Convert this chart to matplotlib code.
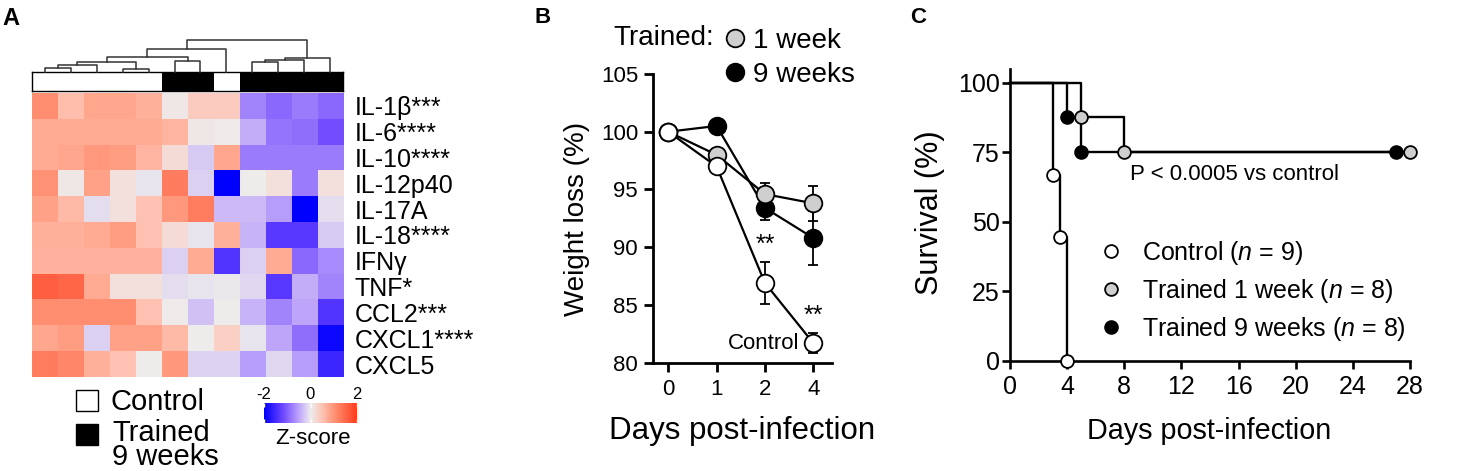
import numpy as np
import matplotlib
matplotlib.use('Agg')
import matplotlib.pyplot as plt
from matplotlib.colors import LinearSegmentedColormap, ListedColormap
from matplotlib.patches import Patch
from matplotlib.lines import Line2D

plt.rcParams['font.family'] = ['Liberation Sans', 'DejaVu Sans']
plt.rcParams['mathtext.fontset'] = 'custom'
plt.rcParams['mathtext.rm'] = 'Liberation Sans'
plt.rcParams['mathtext.it'] = 'Liberation Sans:italic'

W, H = 1472, 471

# ---------------- Panel A data ----------------
genes = ['IL-1β***', 'IL-6****', 'IL-10****', 'IL-12p40', 'IL-17A', 'IL-18****',
         'IFNγ', 'TNF*', 'CCL2***', 'CXCL1****', 'CXCL5']
col_groups = [0, 0, 0, 0, 0, 1, 1, 0, 1, 1, 1, 1]   # 0 = Control, 1 = Trained 9 weeks
group_labels = ['Control', 'Trained\n9 weeks']
z_il1b  = [1.05, 0.55, 0.80, 0.80, 0.70, 0.05, 0.40, 0.40, -0.75, -0.95, -0.80, -0.95]
z_il6   = [0.75, 0.75, 0.75, 0.75, 0.75, 0.65, 0.05, 0.02, -0.45, -0.85, -0.90, -1.15]
z_il10  = [0.75, 0.80, 0.95, 0.90, 0.65, 0.20, -0.25, 0.80, -0.80, -0.80, -0.80, -0.80]
z_il12  = [1.00, 0.05, 0.85, 0.15, -0.05, 1.25, -0.20, -2.00, 0.00, 0.15, -0.80, 0.15]
z_il17  = [0.85, 0.60, -0.10, 0.15, 0.50, 0.95, 1.25, -0.35, -0.35, -0.55, -2.00, -0.10]
z_il18  = [0.70, 0.70, 0.75, 0.90, 0.50, 0.20, -0.05, 0.70, -0.40, -1.35, -1.35, -0.25]
z_ifng  = [0.68, 0.68, 0.68, 0.68, 0.68, -0.20, 0.75, -1.40, -0.20, 0.75, -0.95, -0.70]
z_tnf   = [1.60, 1.50, 0.75, 0.15, 0.15, -0.10, -0.05, -0.03, -0.15, -1.35, -0.45, -0.75]
z_ccl2  = [1.05, 1.05, 1.05, 1.05, 0.50, 0.02, -0.30, 0.00, -0.40, -0.75, -0.50, -1.40]
z_cxcl1 = [0.80, 0.90, -0.20, 0.85, 0.85, 0.60, 0.00, 0.35, -0.05, -0.50, -0.90, -1.90]
z_cxcl5 = [1.25, 1.15, 0.70, 0.50, 0.00, 0.95, -0.18, -0.18, -0.55, -0.15, -0.55, -1.55]
# dendrogram merges: (node a, node b, height); leaves are 0..11, new nodes numbered from 12
dendro_merges = [(0, 1, 12), (3, 4, 10), (12, 2, 22), (14, 13, 30), (5, 6, 33),
                 (15, 16, 45), (17, 7, 67), (8, 9, 30), (19, 10, 37), (20, 11, 41),
                 (18, 21, 95)]

# ---------------- Panel B data ----------------
days_b = ['0', '1', '2', '4']
ctrl_mean = [100.0, 97.0, 86.9, 81.7]
ctrl_err = [0.0, 0.0, 1.8, 0.9]
w1_mean = [100.0, 98.0, 94.6, 93.8]
w1_err = [0.0, 0.0, 0.95, 1.5]
w9_mean = [100.0, 100.5, 93.4, 90.8]
w9_err = [0.0, 0.0, 1.05, 2.3]

# ---------------- Panel C data ----------------
ctrl_t = [0, 3, 3.5, 4]
ctrl_s = [100, 66.7, 44.4, 0]
w1_t = [0, 5, 8, 28]
w1_s = [100, 87.5, 75, 75]
w9_t = [0, 4, 5, 27]
w9_s = [100, 87.5, 75, 75]
legend_c = [r'Control ($\mathit{n}$ = 9)', r'Trained 1 week ($\mathit{n}$ = 8)',
            r'Trained 9 weeks ($\mathit{n}$ = 8)']

GRAY = '#cfcfcf'

fig = plt.figure(figsize=(W / 100, H / 100), dpi=100)


def px_rect(l, t, r, b):
    return [l / W, 1 - b / H, (r - l) / W, (b - t) / H]


def fx(x):
    return x / W


def fy(y):
    return 1 - y / H


# ======================= Panel A =======================
zmat = np.array([z_il1b, z_il6, z_il10, z_il12, z_il17, z_il18, z_ifng, z_tnf,
                 z_ccl2, z_cxcl1, z_cxcl5])
cmap = LinearSegmentedColormap.from_list('zs', [
    (0.0, (0 / 255, 0 / 255, 255 / 255)),
    (0.2, (110 / 255, 70 / 255, 255 / 255)),
    (0.375, (190 / 255, 165 / 255, 250 / 255)),
    (0.5, (238 / 255, 236 / 255, 236 / 255)),
    (0.625, (255 / 255, 195 / 255, 180 / 255)),
    (0.75, (255 / 255, 148 / 255, 118 / 255)),
    (1.0, (255 / 255, 60 / 255, 30 / 255))])

axh = fig.add_axes(px_rect(32, 93, 343, 377))
ncol = zmat.shape[1]
nrow = zmat.shape[0]
axh.imshow(zmat, cmap=cmap, vmin=-2, vmax=2, aspect='auto', interpolation='nearest',
           extent=[-0.5, ncol - 0.5, nrow - 0.5, -0.5])
axh.set_xlim(-0.5, ncol - 0.5)
axh.set_ylim(nrow - 0.5, -0.5)
axh.axis('off')
for i, g in enumerate(genes):
    axh.text(ncol - 0.5 + 0.45, i, g, fontsize=18, va='center_baseline', ha='left')

# column group bar
axg = fig.add_axes(px_rect(32, 72, 343, 91))
axg.imshow(np.array([col_groups]), cmap=ListedColormap(['white', 'black']), vmin=0, vmax=1,
           aspect='auto', interpolation='nearest', extent=[-0.5, ncol - 0.5, 0, 1])
axg.set_xticks([])
axg.set_yticks([])
for s in axg.spines.values():
    s.set_linewidth(1.0)
    s.set_color('black')

# dendrogram
axd = fig.add_axes(px_rect(32, 40, 343, 72))
axd.set_xlim(-0.5, ncol - 0.5)
axd.set_ylim(0, 95)
axd.axis('off')
pos = {i: (float(i), 0.0) for i in range(ncol)}
nid = ncol
for a, b, h in dendro_merges:
    xa, ha = pos[a]
    xb, hb = pos[b]
    axd.plot([xa, xa, xb, xb], [ha, h, h, hb], color='#333333', lw=1.1, clip_on=False)
    pos[nid] = ((xa + xb) / 2, h)
    nid += 1

# z-score colorbar
axc = fig.add_axes(px_rect(264, 403, 357, 423))
grad = np.linspace(-2, 2, 256).reshape(1, -1)
axc.imshow(grad, cmap=cmap, vmin=-2, vmax=2, aspect='auto', extent=[-2, 2, 0, 1])
axc.set_yticks([])
axc.set_xticks([-2, 0, 2])
axc.set_xticklabels(['-2', '0', '2'])
axc.tick_params(axis='x', direction='in', color='white', length=3, width=1,
                top=True, bottom=True, labeltop=True, labelbottom=False, labelsize=12, pad=1)
for s in axc.spines.values():
    s.set_visible(False)
fig.text(fx(313), fy(438), 'Z-score', fontsize=16, ha='center', va='center')

# group legend (second label typeset separately with tight line spacing)
fig.legend(handles=[Patch(facecolor='white', edgecolor='black', linewidth=1),
                    Patch(facecolor='black', edgecolor='black', linewidth=1)],
           labels=[group_labels[0], ' '], loc='upper left',
           bbox_to_anchor=(fx(76), fy(388.5)), frameon=False, fontsize=21,
           handlelength=0.76, handleheight=0.72, handletextpad=0.42,
           labelspacing=0.2, borderpad=0, borderaxespad=0)
fig.text(fx(112), fy(419), group_labels[1], fontsize=21, ha='left', va='top',
         linespacing=0.8)

fig.text(fx(2), fy(25), 'A', fontsize=17, fontweight='bold', va='baseline')

# ======================= Panel B =======================
axb = fig.add_axes(px_rect(652.7, 74, 831.7, 362.7))
xb = np.arange(len(days_b))
ekw = dict(ecolor='black', elinewidth=1.3, capsize=3.6, capthick=1.3)
axb.errorbar(xb, w9_mean, yerr=w9_err, color='black', lw=1.6, marker='o', ms=12.7,
             mfc='black', mec='black', mew=1.3, zorder=3, **ekw)
axb.errorbar(xb, w1_mean, yerr=w1_err, color='black', lw=1.6, marker='o', ms=12.7,
             mfc=GRAY, mec='black', mew=1.3, zorder=4, **ekw)
axb.errorbar(xb, ctrl_mean, yerr=ctrl_err, color='black', lw=1.6, marker='o', ms=12.7,
             mfc='white', mec='black', mew=1.3, zorder=5, **ekw)
axb.set_xlim(-0.32, 3.38)
axb.set_ylim(80, 105)
axb.set_yticks([80, 85, 90, 95, 100, 105])
axb.set_xticks(xb)
axb.set_xticklabels(days_b)
for s in ['top', 'right']:
    axb.spines[s].set_visible(False)
for s in ['left', 'bottom']:
    axb.spines[s].set_linewidth(2.0)
axb.tick_params(axis='both', length=6.5, width=2.0, labelsize=16, direction='out')
axb.tick_params(axis='y', pad=4)
axb.tick_params(axis='x', pad=5)
axb.text(2, ctrl_mean[2] + ctrl_err[2] + 0.5, '**', fontsize=18, ha='center', va='bottom')
axb.text(3, ctrl_mean[3] + ctrl_err[3] + 0.4, '**', fontsize=18, ha='center', va='bottom')
axb.text(2.72, ctrl_mean[3], 'Control', fontsize=16, ha='right', va='center')

fig.text(fx(576.5), fy(218.5), 'Weight loss (%)', fontsize=20, rotation=90,
         ha='center', va='center')
fig.text(fx(741.7), fy(431), 'Days post-infection', fontsize=22.5, ha='center', va='center')
fig.text(fx(613), fy(38), 'Trained:', fontsize=20, ha='left', va='center')
hb1 = Line2D([], [], ls='none', marker='o', ms=12.7, mfc=GRAY, mec='black', mew=1.3)
hb9 = Line2D([], [], ls='none', marker='o', ms=12.7, mfc='black', mec='black', mew=1.3)
fig.legend(handles=[hb1, hb9], labels=['1 week', '9 weeks'], loc='upper left',
           bbox_to_anchor=(fx(721), fy(28)), frameon=False, fontsize=20,
           handlelength=1.0, handletextpad=0.15, labelspacing=0.28, borderpad=0,
           borderaxespad=0)
fig.text(fx(535), fy(23), 'B', fontsize=16, fontweight='bold', va='baseline')

# ======================= Panel C =======================
axs = fig.add_axes(px_rect(1010, 68.8, 1410, 361))
series = [(w9_t, w9_s, 'black'), (w1_t, w1_s, GRAY), (ctrl_t, ctrl_s, 'white')]
handles_c = {}
for t, s, fc in series:
    axs.step(t, s, where='post', color='black', lw=1.7, zorder=3, clip_on=False)
    h, = axs.plot(t[1:], s[1:], ls='none', marker='o', ms=9.2, mfc=fc, mec='black',
                  mew=1.3, zorder=4, clip_on=False)
    handles_c[fc] = h
axs.set_xlim(0, 28)
axs.set_ylim(0, 105)
axs.set_xticks(np.arange(0, 29, 4))
axs.set_yticks([0, 25, 50, 75, 100])
for s in ['top', 'right']:
    axs.spines[s].set_visible(False)
for s in ['left', 'bottom']:
    axs.spines[s].set_linewidth(1.9)
axs.tick_params(axis='both', length=6, width=1.9, labelsize=18, direction='out')
axs.tick_params(axis='y', pad=1.5)
axs.tick_params(axis='x', pad=4)
axs.text(8.4, 66.9, 'P < 0.0005 vs control', fontsize=16, ha='left', va='center')
axs.legend(handles=[handles_c['white'], handles_c[GRAY], handles_c['black']], labels=legend_c,
           loc='upper left', bbox_to_anchor=(fx(1098.2), fy(239)),
           bbox_transform=fig.transFigure, frameon=False, fontsize=18,
           handlelength=1.0, handletextpad=0.74, labelspacing=0.4, borderpad=0,
           borderaxespad=0)
fig.text(fx(930), fy(212.5), 'Survival (%)', fontsize=22, rotation=90,
         ha='center', va='center')
fig.text(fx(1209), fy(431), 'Days post-infection', fontsize=20.7, ha='center', va='center')
fig.text(fx(910), fy(23), 'C', fontsize=16, fontweight='bold', va='baseline')

fig.savefig('out.png', dpi=100)
